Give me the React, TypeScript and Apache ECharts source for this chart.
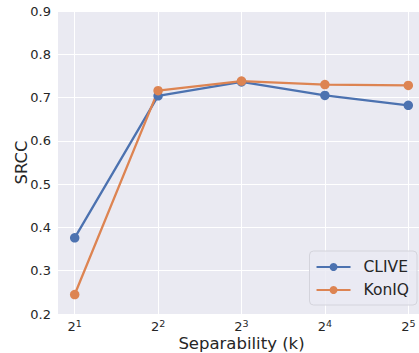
import React, { useEffect, useRef } from "react";
import * as echarts from "echarts";

const exponents = [1, 2, 3, 4, 5];
const cliveValues = [0.376, 0.704, 0.736, 0.705, 0.682];
const koniqValues = [0.245, 0.716, 0.738, 0.730, 0.728];
const yTicks = [0.2, 0.3, 0.4, 0.5, 0.6, 0.7, 0.8, 0.9];

const FONT = "DejaVu Sans";
const TXT = "#262626";

export default function App() {
  const ref = useRef<HTMLDivElement>(null);
  useEffect(() => {
    if (!ref.current) return;
    const chart = echarts.init(ref.current, null, { renderer: "svg" });
    const mk = (vals: number[]) => exponents.map((e, i) => [e, vals[i]]);
    chart.setOption({
      animation: false,
      backgroundColor: "#ffffff",
      textStyle: { fontFamily: FONT },
      grid: [
        { left: 58, top: 11, width: 367, height: 303, backgroundColor: "#EAEAF2", show: true, borderWidth: 0, outerBoundsMode: "none", containLabel: false },
        { left: 74.7, top: 11, width: 333.6, height: 303, show: false, borderWidth: 0, outerBoundsMode: "none", containLabel: false },
      ],
      xAxis: [
        { gridIndex: 0, type: "value", min: 0, max: 1, show: false },
        {
          gridIndex: 1,
          type: "value",
          min: 1,
          max: 5,
          interval: 1,
          axisLine: { show: false },
          axisTick: { show: false },
          splitLine: { show: true, lineStyle: { color: "#ffffff", width: 1 } },
          axisLabel: {
            margin: 5,
            formatter: (v: number) => `{b|2}{s|${v}}`,
            rich: {
              b: { fontSize: 13, lineHeight: 14, color: TXT, fontFamily: FONT },
              s: { fontSize: 9.5, lineHeight: 10, color: TXT, fontFamily: FONT, padding: [0, 0, 6, 0] },
            },
          },
          name: "Separability (k)",
          nameLocation: "middle",
          nameGap: 21,
          nameMoveOverlap: false,
          nameTextStyle: { fontSize: 16.5, color: TXT, fontFamily: FONT },
        },
      ],
      yAxis: [
        {
          gridIndex: 0,
          type: "value",
          min: 0.2,
          max: 0.9,
          interval: 0.1,
          axisLine: { show: false },
          axisTick: { show: false },
          splitLine: { show: true, lineStyle: { color: "#ffffff", width: 1 } },
          axisLabel: {
            margin: 7,
            fontSize: 13,
            color: TXT,
            fontFamily: FONT,
            formatter: (v: number) => {
              const t = yTicks.find((y) => Math.abs(y - v) < 1e-6);
              return t !== undefined ? t.toFixed(1) : "";
            },
          },
          name: "SRCC",
          nameLocation: "middle",
          nameGap: 28,
          nameMoveOverlap: false,
          nameTextStyle: { fontSize: 16.5, color: TXT, fontFamily: FONT },
        },
        { gridIndex: 1, type: "value", min: 0.2, max: 0.9, show: false },
      ],
      legend: {
        right: 2,
        bottom: 48,
        orient: "vertical",
        backgroundColor: "rgba(234,234,242,0.8)",
        borderColor: "#d4d4dc",
        borderWidth: 1,
        borderRadius: 4,
        padding: [8, 8, 7, 6],
        itemGap: 7,
        itemWidth: 34,
        itemHeight: 10,
        textStyle: { fontSize: 15.5, color: TXT, fontFamily: FONT, padding: [0, 0, 0, 8] },
        data: ["CLIVE", "KonIQ"],
      },
      series: [
        {
          name: "CLIVE",
          type: "line",
          xAxisIndex: 1,
          yAxisIndex: 1,
          data: mk(cliveValues),
          symbol: "circle",
          symbolSize: 9.5,
          itemStyle: { color: "#4C72B0" },
          lineStyle: { color: "#4C72B0", width: 2.3 },
        },
        {
          name: "KonIQ",
          type: "line",
          xAxisIndex: 1,
          yAxisIndex: 1,
          data: mk(koniqValues),
          symbol: "circle",
          symbolSize: 9.5,
          itemStyle: { color: "#DD8452" },
          lineStyle: { color: "#DD8452", width: 2.3 },
        },
      ],
    });
    return () => chart.dispose();
  }, []);
  return <div ref={ref} style={{ width: 419, height: 353, position: "absolute", left: 0, top: 0 }} />;
}
